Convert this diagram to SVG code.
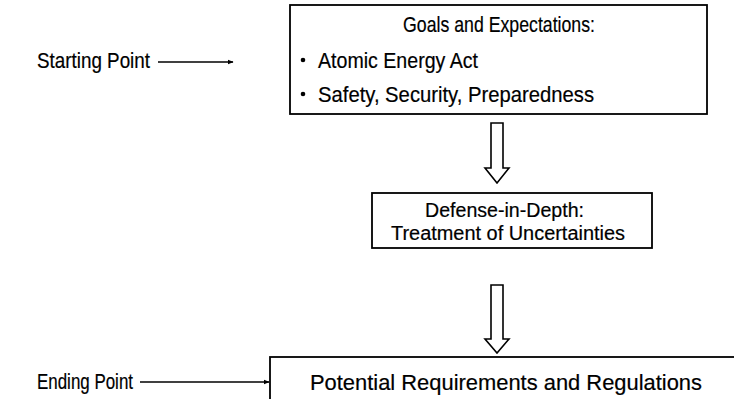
<svg xmlns="http://www.w3.org/2000/svg" width="734" height="399" viewBox="0 0 734 399">
  <style>
    .box { fill: #ffffff; stroke: #000000; stroke-width: 1.8; }
    .label { font-family: "Liberation Sans", Arial, sans-serif; font-size: 22px; fill: #000000; stroke: #000000; stroke-width: 0.2; }
    .small { font-size: 20px; }
    .mid { text-anchor: middle; }
    .link { stroke: #000000; stroke-width: 1.4; fill: none; }
    .block { fill: #ffffff; stroke: #000000; stroke-width: 1.6; stroke-linejoin: miter; }
  </style>
  <defs>
    <marker id="tip" viewBox="0 0 10 10" refX="9" refY="5" markerWidth="6" markerHeight="6" orient="auto" markerUnits="userSpaceOnUse">
      <path d="M0,1 L10,5 L0,9 z" fill="#000000"/>
    </marker>
  </defs>
  <rect width="734" height="399" fill="#ffffff"/>

  <!-- side labels -->
  <g id="start-label">
    <text class="label" x="37" y="68" textLength="113" lengthAdjust="spacingAndGlyphs">Starting Point</text>
  </g>
  <g id="end-label">
    <text class="label" x="37" y="389" textLength="96" lengthAdjust="spacingAndGlyphs">Ending Point</text>
  </g>

  <!-- goals box -->
  <g id="goals">
    <rect class="box" x="290" y="5" width="417" height="109"/>
    <text class="label mid" x="499" y="32" textLength="192" lengthAdjust="spacingAndGlyphs">Goals and Expectations:</text>
    <circle cx="303" cy="60" r="2.3" fill="#000000"/>
    <text class="label" x="318" y="68" textLength="160" lengthAdjust="spacingAndGlyphs">Atomic Energy Act</text>
    <circle cx="303" cy="94" r="2.3" fill="#000000"/>
    <text class="label" x="318" y="102" textLength="276" lengthAdjust="spacingAndGlyphs">Safety, Security, Preparedness</text>
  </g>

  <!-- defense-in-depth box -->
  <g id="defense">
    <rect class="box" x="372" y="193" width="280" height="55"/>
    <text class="label small" x="425" y="217" textLength="159" lengthAdjust="spacingAndGlyphs">Defense-in-Depth:</text>
    <text class="label small" x="391" y="240" textLength="234" lengthAdjust="spacingAndGlyphs">Treatment of Uncertainties</text>
  </g>

  <!-- requirements box (runs past the frame) -->
  <g id="requirements">
    <rect class="box" x="270" y="357" width="480" height="60"/>
    <text class="label" x="310" y="390" textLength="392" lengthAdjust="spacingAndGlyphs">Potential Requirements and Regulations</text>
  </g>

  <!-- connectors -->
  <g id="connectors">
    <line class="link" x1="158" y1="62" x2="233" y2="62" marker-end="url(#tip)"/>
    <line class="link" x1="140" y1="382" x2="269" y2="382" marker-end="url(#tip)"/>
    <polygon class="block" points="491,123 503,123 503,168 509,168 497,183 485,168 491,168"/>
    <polygon class="block" points="491,285 503,285 503,339 509,339 497,353 485,339 491,339"/>
  </g>
</svg>
